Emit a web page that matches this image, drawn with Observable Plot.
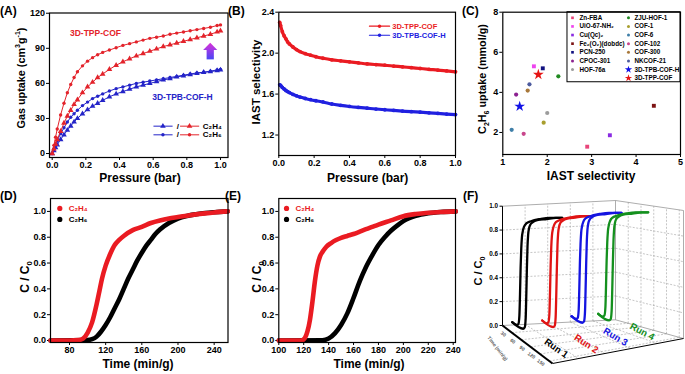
<!DOCTYPE html>
<html><head><meta charset="utf-8">
<script src="https://cdn.jsdelivr.net/npm/d3@7"></script>
<script src="https://cdn.jsdelivr.net/npm/@observablehq/plot@0.6"></script>
<style>
html,body{margin:0;padding:0;background:#fff;}
#fig{position:relative;width:685px;height:374px;overflow:hidden;font-family:"Liberation Sans",Arial,"DejaVu Sans",sans-serif;font-weight:bold;color:#000;}
.pn{position:absolute;}
.t{position:absolute;white-space:nowrap;line-height:1;font-weight:bold;}
.xt{transform:translateX(-50%);font-size:12px;}
.yt{transform:translate(-50%,-50%) rotate(-90deg);}
.pl{font-size:12px;}
sub,sup{font-size:65%;line-height:0;}
</style></head><body><div id="fig">
<div class="pn" id="pA" style="left:0;top:0;width:230px;height:190px"></div>
<div class="pn" id="pB" style="left:225px;top:0;width:235px;height:190px"></div>
<div class="pn" id="pC" style="left:450px;top:0;width:235px;height:190px"></div>
<div class="pn" id="pD" style="left:0;top:185px;width:230px;height:189px"></div>
<div class="pn" id="pE" style="left:225px;top:185px;width:235px;height:189px"></div>
<div class="pn" id="pF" style="left:450px;top:185px;width:235px;height:189px"></div>

<div class="t pl" style="left:0;top:4.8px">(A)</div>
<div class="t pl" style="left:228px;top:4.8px">(B)</div>
<div class="t pl" style="left:462px;top:4.8px">(C)</div>
<div class="t pl" style="left:0;top:189.8px">(D)</div>
<div class="t pl" style="left:225px;top:189.8px">(E)</div>
<div class="t pl" style="left:463px;top:189.8px">(F)</div>

<div class="t xt" style="left:140px;top:171.8px">Pressure (bar)</div>
<div class="t xt" style="left:367.7px;top:171.8px">Pressure (bar)</div>
<div class="t xt" style="left:591px;top:170.3px">IAST selectivity</div>
<div class="t xt" style="left:138px;top:357.8px">Time (min/g)</div>
<div class="t xt" style="left:369px;top:357.8px">Time (min/g)</div>

<div class="t yt" style="left:21px;top:78px;font-size:10.8px">Gas uptake (cm<sup>3</sup>g<sup>-1</sup>)</div>
<div class="t yt" style="left:256.7px;top:81.7px;font-size:11.5px">IAST selectivity</div>
<div class="t yt" style="left:481.7px;top:79px;font-size:10.8px">C<sub>2</sub>H<sub>6</sub> uptake (mmol/g)</div>
<div class="t yt" style="left:25px;top:277px;font-size:12px">C / C<sub>0</sub></div>
<div class="t yt" style="left:256.7px;top:277px;font-size:12px">C / C<sub>0</sub></div>
<div class="t yt" style="left:478.3px;top:271px;font-size:11px">C / C<sub>0</sub></div>
</div>
<script>
// ================= DATA =================
// (A) Adsorption isotherms (cm3/g) vs pressure (bar)
const pressureA = [0,0.01,0.02,0.03,0.05,0.07,0.09,0.11,0.13,0.15,0.18,0.21,0.24,0.27,0.30,0.34,0.38,0.42,0.46,0.50,0.54,0.58,0.62,0.66,0.70,0.74,0.78,0.82,0.86,0.90,0.94,0.98,1.0];
const tppC2H6 = [0,7,14,21,33,43,52,59,65,70,75,79,82,84.5,86.5,88.5,90.5,92.5,94,95.5,97,98.5,99.5,100.5,102,103,104,105,106,107,108,109.5,110];
const tppC2H4 = [0,4,8,12,19,26,32,37,42,46,52,57,61,65,68,72,75.5,78.5,81,83.5,85.5,87.5,89.5,91.5,93,94.5,96,97.5,99,100.5,102,104,105];
const tpbC2H6 = [0,4,8,11,17,22,27,31,34,37,41,44,47,49,51,53.5,55.5,57,58.5,60,61,62,63,64,65,66,67,68,69,69.5,70.5,71.5,72];
const tpbC2H4 = [0,2.5,5,7.5,12,16,20,23.5,27,30,34,37.5,40.5,43,45.5,48.5,51,53,55,57,58.5,60,61.5,63,64,65.5,66.5,67.5,68.5,69.5,70,71,71.5];

// (B) IAST selectivity vs pressure
const pressureB = [0.005,0.01,0.02,0.03,0.04,0.05,0.06,0.08,0.10,0.12,0.15,0.18,0.21,0.25,0.30,0.35,0.40,0.45,0.50,0.55,0.60,0.65,0.70,0.75,0.80,0.85,0.90,0.95,1.0];
const selTPP = [2.30,2.27,2.21,2.17,2.14,2.11,2.09,2.06,2.035,2.015,1.995,1.98,1.965,1.95,1.935,1.925,1.915,1.905,1.895,1.888,1.882,1.874,1.866,1.858,1.85,1.842,1.835,1.826,1.817];
const selTPB = [1.69,1.685,1.665,1.65,1.635,1.625,1.615,1.597,1.583,1.571,1.557,1.545,1.535,1.523,1.503,1.49,1.479,1.47,1.462,1.454,1.447,1.44,1.434,1.428,1.423,1.417,1.411,1.405,1.40];

// (C) comparison of materials
const materials = ["Zn-FBA","UiO-67-NH₂","Cu(Qc)₂","Fe₂(O₂)(dobdc)","PCN-250","CPOC-301","HOF-76a","ZJU-HOF-1","COF-1","COF-6","COF-102","COF-300","NKCOF-21","3D-TPB-COF-H","3D-TPP-COF"];
const materialSelectivity = [2.90,1.70,3.41,4.40,1.90,1.30,2.00,2.25,1.92,1.20,1.47,1.56,1.60,1.38,1.80];
const materialUptake = [1.29,5.30,1.86,3.33,5.20,3.89,2.97,4.80,2.49,2.13,1.93,4.09,4.40,3.30,4.89];

// (D) breakthrough curves
const timeD_C2H4 = [59,80,90,95,100,105,110,113,116,120,125,130,135,140,150,160,170,180,190,200,210,220,230,240,255];
const cD_C2H4 = [0,0,0.003,0.015,0.06,0.14,0.28,0.38,0.48,0.58,0.67,0.74,0.78,0.81,0.855,0.88,0.91,0.93,0.945,0.956,0.967,0.977,0.985,0.992,1.0];
const timeD_C2H6 = [59,100,105,110,115,120,125,130,135,140,145,150,155,160,165,170,175,180,190,200,210,220,230,240,255];
const cD_C2H6 = [0,0.003,0.01,0.03,0.07,0.12,0.18,0.25,0.32,0.40,0.48,0.55,0.62,0.68,0.735,0.78,0.825,0.86,0.91,0.945,0.965,0.978,0.988,0.994,1.0];

// (E) breakthrough curves
const timeE_C2H4 = [100,118,121,123,125,127,129,131,133,135,138,142,146,150,155,160,165,170,175,180,190,200,210,220,230,242];
const cE_C2H4 = [0,0,0.02,0.07,0.16,0.3,0.46,0.58,0.65,0.685,0.725,0.755,0.778,0.795,0.81,0.825,0.843,0.862,0.88,0.898,0.93,0.963,0.98,0.99,0.996,1.0];
const timeE_C2H6 = [100,135,140,145,150,155,160,165,170,175,180,185,190,195,200,210,220,230,242];
const cE_C2H6 = [0,0.002,0.015,0.055,0.12,0.21,0.33,0.46,0.57,0.66,0.74,0.8,0.85,0.89,0.925,0.965,0.985,0.995,1.0];

// (F) cycling runs
const runs = ["Run 1","Run 2","Run 3","Run 4"];
const timeF_C2H4 = [0,15,20,23,25,27,29,31,34,38,45,60,90,120,160];
const cF_C2H4 = [0,0,0.02,0.1,0.3,0.55,0.72,0.82,0.88,0.92,0.95,0.97,0.99,1.0,1.0];
const timeF_C2H6 = [0,35,40,43,45,47,49,51,54,58,65,80,110,140,160];
const cF_C2H6 = [0,0,0.02,0.1,0.3,0.55,0.75,0.85,0.91,0.94,0.96,0.98,0.99,1.0,1.0];

// tick values
const ticksPressure = [0,0.2,0.4,0.6,0.8,1.0];
const ticksUptakeA = [0,30,60,90,120];
const ticksSelB = [1.2,1.6,2.0,2.4];
const ticksSelC = [1,2,3,4,5];
const ticksUptakeC = [2,4,6,8];
const ticksCC0 = [0,0.2,0.4,0.6,0.8,1.0];
const ticksTimeD = [80,120,160,200,240];
const ticksTimeE = [100,120,140,160,180,200,220,240];
const ticksTimeF = [30,60,90,120,150];

// ================= STYLES =================
const materialStyle = [
  {color:"#e8457a",symbol:"square"},{color:"#ee44ee",symbol:"square"},{color:"#8a2be2",symbol:"square"},
  {color:"#7d1414",symbol:"square"},{color:"#111180",symbol:"square"},{color:"#8c2290",symbol:"circle"},
  {color:"#9c9c9c",symbol:"circle"},{color:"#218a21",symbol:"circle"},{color:"#a89e2e",symbol:"circle"},
  {color:"#3f7fa8",symbol:"circle"},{color:"#c8468c",symbol:"circle"},{color:"#a8783a",symbol:"circle"},
  {color:"#4d5b9e",symbol:"circle"},{color:"#1212e6",symbol:"star"},{color:"#e61414",symbol:"star"}
];
const runColors = ["#000000","#e01414","#1414e0","#14901e"];
const RED = "#e3232b", BLUE = "#2424c8", RED2 = "#ea1b22", BLUE2 = "#2020e0";
const base = {fontFamily:'"Liberation Sans", Arial, "DejaVu Sans", sans-serif', fontSize:"9px", fontWeight:"bold", background:"transparent", overflow:"visible", color:"#000"};
const f1 = d3.format(".1f"), fd = d3.format("d");
const axes = (xt, yt, xf, yf) => [
  Plot.axisX({ticks:xt, tickFormat:xf, tickSize:3, tickPadding:1.5, label:null}),
  Plot.axisY({ticks:yt, tickFormat:yf, tickSize:3, tickPadding:1.5, label:null})
];
const pairs = (xs, ys) => xs.map((x,i)=>({x, y:ys[i]}));

// ================= (A) =================
const seriesA = [[tpbC2H4,BLUE,"triangle"],[tpbC2H6,BLUE,"circle"],[tppC2H4,RED,"triangle"],[tppC2H6,RED,"circle"]];
const legA = [{label:"C₂H₄", sym:"triangle", y:23.4},{label:"C₂H₆", sym:"circle", y:16.0}];
const chartA = Plot.plot({
  width:230, height:190, marginLeft:49, marginRight:2.5, marginTop:12.5, marginBottom:33,
  x:{domain:[-0.016,1.0446]}, y:{domain:[-3.4,120.2]}, style:base,
  marks:[
    ...axes(ticksPressure, ticksUptakeA, f1, fd),
    ...seriesA.flatMap(([ys,col,sym]) => [
      Plot.line(pairs(pressureA, ys), {x:"x", y:"y", stroke:col, strokeWidth:1}),
      Plot.dot(pairs(pressureA, ys), {x:"x", y:"y", fill:col, symbol:sym, r: sym==="triangle"?2.1:1.7})
    ]),
    Plot.text([{x:0.257,y:103.1,t:"3D-TPP-COF"}], {x:"x",y:"y",text:"t",fill:RED,fontSize:8.5}),
    Plot.text([{x:0.774,y:47.7,t:"3D-TPB-COF-H"}], {x:"x",y:"y",text:"t",fill:BLUE,fontSize:8.5}),
    Plot.rect([{x1:0.9205,x2:0.9635,y1:80.1,y2:88.3}], {x1:"x1",x2:"x2",y1:"y1",y2:"y2",fill:"url(#gShaft)"}),
    Plot.areaX([{y:88.1,x1:0.900,x2:0.984},{y:94.4,x1:0.942,x2:0.942}], {y:"y",x1:"x1",x2:"x2",fill:"url(#gHead)"}),
    ...legA.flatMap(L => [
      Plot.line([{x:0.604,y:L.y},{x:0.713,y:L.y}], {x:"x",y:"y",stroke:BLUE,strokeWidth:1}),
      Plot.dot([{x:0.658,y:L.y}], {x:"x",y:"y",fill:BLUE,symbol:L.sym,r:L.sym==="triangle"?2.1:1.7}),
      Plot.text([{x:0.746,y:L.y}], {x:"x",y:"y",text:()=>"/",fontSize:8}),
      Plot.line([{x:0.762,y:L.y},{x:0.871,y:L.y}], {x:"x",y:"y",stroke:RED,strokeWidth:1}),
      Plot.dot([{x:0.816,y:L.y}], {x:"x",y:"y",fill:RED,symbol:L.sym,r:L.sym==="triangle"?2.1:1.7}),
      Plot.text([{x:0.895,y:L.y,t:L.label}], {x:"x",y:"y",text:"t",textAnchor:"start",fontSize:8})
    ]),
    Plot.frame({stroke:"#000", strokeWidth:1.2})
  ]
});
d3.select(chartA).append("defs").html(
  '<linearGradient id="gShaft" x1="0" y1="1" x2="0" y2="0"><stop offset="0" stop-color="#4848f4"/><stop offset="1" stop-color="#9a3ae8"/></linearGradient>' +
  '<linearGradient id="gHead" x1="0" y1="1" x2="0" y2="0"><stop offset="0" stop-color="#a23ae6"/><stop offset="1" stop-color="#d632d6"/></linearGradient>');
document.getElementById("pA").append(chartA);

// ================= (B) =================
const legB = [{t:"3D-TPP-COF", y:2.263, c:RED2},{t:"3D-TPB-COF-H", y:2.175, c:BLUE2}];
const chartB = Plot.plot({
  width:235, height:190, marginLeft:53.3, marginRight:5, marginTop:11.7, marginBottom:35,
  x:{domain:[0,1]}, y:{domain:[1.0,2.4]}, style:base,
  marks:[
    ...axes(ticksPressure, ticksSelB, f1, f1),
    ...[[selTPP,RED2],[selTPB,BLUE2]].flatMap(([ys,col]) => [
      Plot.line(pairs(pressureB, ys), {x:"x", y:"y", stroke:col, strokeWidth:3.2, curve:"monotone-x"}),
      Plot.dot(pairs(pressureB, ys), {x:"x", y:"y", fill:col, r:1.9})
    ]),
    ...legB.flatMap(L => [
      Plot.line([{x:0.513,y:L.y},{x:0.627,y:L.y}], {x:"x",y:"y",stroke:L.c,strokeWidth:1.2}),
      Plot.dot([{x:0.57,y:L.y}], {x:"x",y:"y",fill:L.c,r:1.7}),
      Plot.text([L], {x:()=>0.642,y:"y",text:"t",fill:L.c,textAnchor:"start",fontSize:7.5})
    ]),
    Plot.frame({stroke:"#000", strokeWidth:1.2})
  ]
});
document.getElementById("pB").append(chartB);

// ================= (C) =================
const cPoints = materials.map((name,i)=>({name, x:materialSelectivity[i], y:materialUptake[i], ...materialStyle[i]}));
const legC = cPoints.map((p,i)=>{
  const col = i < 7 ? 0 : 1, row = i < 7 ? i : i - 7;
  return {...p, mx: col ? 3.829 : 2.569, tx: col ? 3.964 : 2.726, ly: 7.72 - row*0.43};
});
const chartC = Plot.plot({
  width:235, height:190, marginLeft:52.3, marginRight:5, marginTop:11.7, marginBottom:36,
  x:{domain:[1,5]}, y:{domain:[0.9,8]}, style:base,
  marks:[
    ...axes(ticksSelC, ticksUptakeC, fd, fd),
    ...cPoints.map(p => Plot.dot([p], {x:"x", y:"y", fill:p.color, symbol:p.symbol, r: p.symbol==="star"?3.4:(p.symbol==="square"?2.2:2.1)})),
    Plot.rect([{x1:2.456,x2:5,y1:4.505,y2:8}], {x1:"x1",x2:"x2",y1:"y1",y2:"y2",fill:"white",stroke:"#000",strokeWidth:1}),
    ...legC.map(p => Plot.dot([p], {x:"mx", y:"ly", fill:p.color, symbol:p.symbol, r: p.symbol==="star"?2.3:1.5})),
    Plot.text(legC, {x:"tx", y:"ly", text:"name", textAnchor:"start", fontSize:6.3}),
    Plot.frame({stroke:"#000", strokeWidth:1.2})
  ]
});
document.getElementById("pC").append(chartC);

// ================= (D) & (E) =================
function breakthrough(el, w, ml, mr, xdom, xticks, s4, s6, leg) {
  const chart = Plot.plot({
    width:w, height:189, marginLeft:ml, marginRight:mr, marginTop:13, marginBottom:32,
    x:{domain:xdom}, y:{domain:[-0.0155,1.1]}, style:base,
    marks:[
      ...axes(xticks, ticksCC0, fd, f1),
      Plot.line(s6, {x:"x", y:"y", stroke:"#000", strokeWidth:4.6, curve:"monotone-x"}),
      Plot.line(s4, {x:"x", y:"y", stroke:RED2, strokeWidth:4.6, curve:"monotone-x"}),
      Plot.dot([{y:1.023}], {x:()=>leg.dot, y:"y", fill:RED2, r:2.6}),
      Plot.dot([{y:0.938}], {x:()=>leg.dot, y:"y", fill:"#000", r:2.6}),
      Plot.text([{y:1.023,t:"C₂H₄"}], {x:()=>leg.text, y:"y", text:"t", fill:RED2, textAnchor:"start", fontSize:8}),
      Plot.text([{y:0.938,t:"C₂H₆"}], {x:()=>leg.text, y:"y", text:"t", fill:"#000", textAnchor:"start", fontSize:8}),
      Plot.frame({stroke:"#000", strokeWidth:1.2})
    ]
  });
  document.getElementById(el).append(chart);
}
breakthrough("pD", 230, 50, 2.5, [59,255.3], ticksTimeD, pairs(timeD_C2H4,cD_C2H4), pairs(timeD_C2H6,cD_C2H6), {dot:69.3, text:79.2});
breakthrough("pE", 235, 53.3, 5, [100,241.85], ticksTimeE, pairs(timeE_C2H4,cE_C2H4), pairs(timeE_C2H6,cE_C2H6), {dot:106.2, text:113.4});

// ================= (F) pseudo-3D =================
// projection of the 3D box (u: time depth, v: run, w: C/C0) onto the panel
const box = {"000":[52,140],"100":[102,178],"010":[165,134.3],"110":[233,153],"001":[52,20.7],"101":[102,48],"011":[165,15],"111":[233,25]};
const lerp2 = (a,b,t)=>[a[0]+(b[0]-a[0])*t, a[1]+(b[1]-a[1])*t];
function proj(u,v,w){
  const c0 = lerp2(lerp2(box["000"],box["100"],u), lerp2(box["010"],box["110"],u), v);
  const c1 = lerp2(lerp2(box["001"],box["101"],u), lerp2(box["011"],box["111"],u), v);
  return lerp2(c0,c1,w);
}
const tMaxF = 160;
const segs = [];
const add = (a,b,kind)=>segs.push({x1:a[0],y1:a[1],x2:b[0],y2:b[1],kind});
const gridV = [0.2,0.4,0.6,0.8];
ticksCC0.slice(1,-1).forEach(w=>{ add(proj(0,0,w),proj(0,1,w),"grid"); add(proj(0,1,w),proj(1,1,w),"grid"); });
gridV.forEach(v=>{ add(proj(0,v,0),proj(0,v,1),"grid"); add(proj(0,v,0),proj(1,v,0),"grid"); });
ticksTimeF.forEach(t=>{ const u=t/tMaxF; add(proj(u,1,0),proj(u,1,1),"grid"); add(proj(u,0,0),proj(u,1,0),"grid"); });
add(proj(0,0,1),proj(0,1,1),"edge"); add(proj(0,1,1),proj(1,1,1),"edge"); add(proj(1,1,0),proj(1,1,1),"edge");
add(proj(0,1,0),proj(0,1,1),"edge"); add(proj(0,0,0),proj(0,1,0),"edge"); add(proj(0,1,0),proj(1,1,0),"edge");
add(proj(0,0,0),proj(0,0,1),"axis"); add(proj(1,0,0),proj(1,1,0),"axis");
ticksCC0.forEach(w=>{ const p=proj(0,0,w); add(p,[p[0]-3,p[1]],"axis"); });
add(proj(0,0,0),proj(1,0,0),"axisT");

// each run's curves drawn in its own slanted plane
const runPlane = {base:[[61.7,136.7],[91.7,135],[121,130.7],[147.7,128.3]], pxPerMin:50/tMaxF, lean:0.6, h:[104.4,104.3,103.4,101.5]};
const fCurves = [];
runs.forEach((run,r)=>{
  [[timeF_C2H4,cF_C2H4,"C2H4"],[timeF_C2H6,cF_C2H6,"C2H6"]].forEach(([ts,cs,gas])=>{
    ts.forEach((t,i)=>{
      const c = cs[i], [bx,by] = runPlane.base[r], dx = t*runPlane.pxPerMin;
      fCurves.push({run, r, gas, X:bx+dx, Y:by+(1-c)*runPlane.lean*dx-c*runPlane.h[r]});
    });
  });
});
const runLabels = runs.map((run,r)=>({run, r, X:runPlane.base[r][0]+44, Y:runPlane.base[r][1]+26-2.7*r}));
const cTickLabels = ticksCC0.map(w=>{ const p=proj(0,0,w); return {w, X:p[0]-4.5, Y:p[1]}; });
const tTickLabels = ticksTimeF.map(t=>{ const p=proj(t/tMaxF,0,0); return {t, X:p[0]-8.5, Y:p[1]+1.5}; });

const chartF = Plot.plot({
  width:235, height:189, margin:0,
  x:{domain:[0,235], range:[0,235], axis:null}, y:{domain:[0,189], range:[0,189], axis:null}, style:base,
  marks:[
    Plot.link(segs.filter(d=>d.kind==="grid"), {x1:"x1",y1:"y1",x2:"x2",y2:"y2",stroke:"#a0a0a0",strokeWidth:0.6,strokeDasharray:"2,1.5"}),
    Plot.link(segs.filter(d=>d.kind==="edge"), {x1:"x1",y1:"y1",x2:"x2",y2:"y2",stroke:"#8a8a8a",strokeWidth:0.7}),
    Plot.link(segs.filter(d=>d.kind==="axis"), {x1:"x1",y1:"y1",x2:"x2",y2:"y2",stroke:"#000",strokeWidth:1}),
    Plot.link(segs.filter(d=>d.kind==="axisT"), {x1:"x1",y1:"y1",x2:"x2",y2:"y2",stroke:"#000",strokeWidth:2}),
    Plot.text(cTickLabels, {x:"X", y:"Y", text:d=>f1(d.w), textAnchor:"end", fontSize:6.3}),
    Plot.text(tTickLabels, {x:"X", y:"Y", text:d=>String(d.t), rotate:35, fontSize:4.8, fill:"#555"}),
    Plot.text([{X:47,Y:163,t:"Time (min/g)"}], {x:"X", y:"Y", text:"t", rotate:52, fontSize:5, fill:"#666"}),
    ...runs.flatMap((run,r)=>["C2H4","C2H6"].map(gas =>
      Plot.line(fCurves.filter(d=>d.run===run && d.gas===gas), {x:"X", y:"Y", stroke:runColors[r], strokeWidth:2.3, curve:"monotone-x"}))),
    ...runLabels.map(L => Plot.text([L], {x:"X", y:"Y", text:"run", fill:runColors[L.r], rotate:35-2.3*L.r, fontSize:9.5}))
  ]
});
document.getElementById("pF").append(chartF);
</script>
</body></html>
